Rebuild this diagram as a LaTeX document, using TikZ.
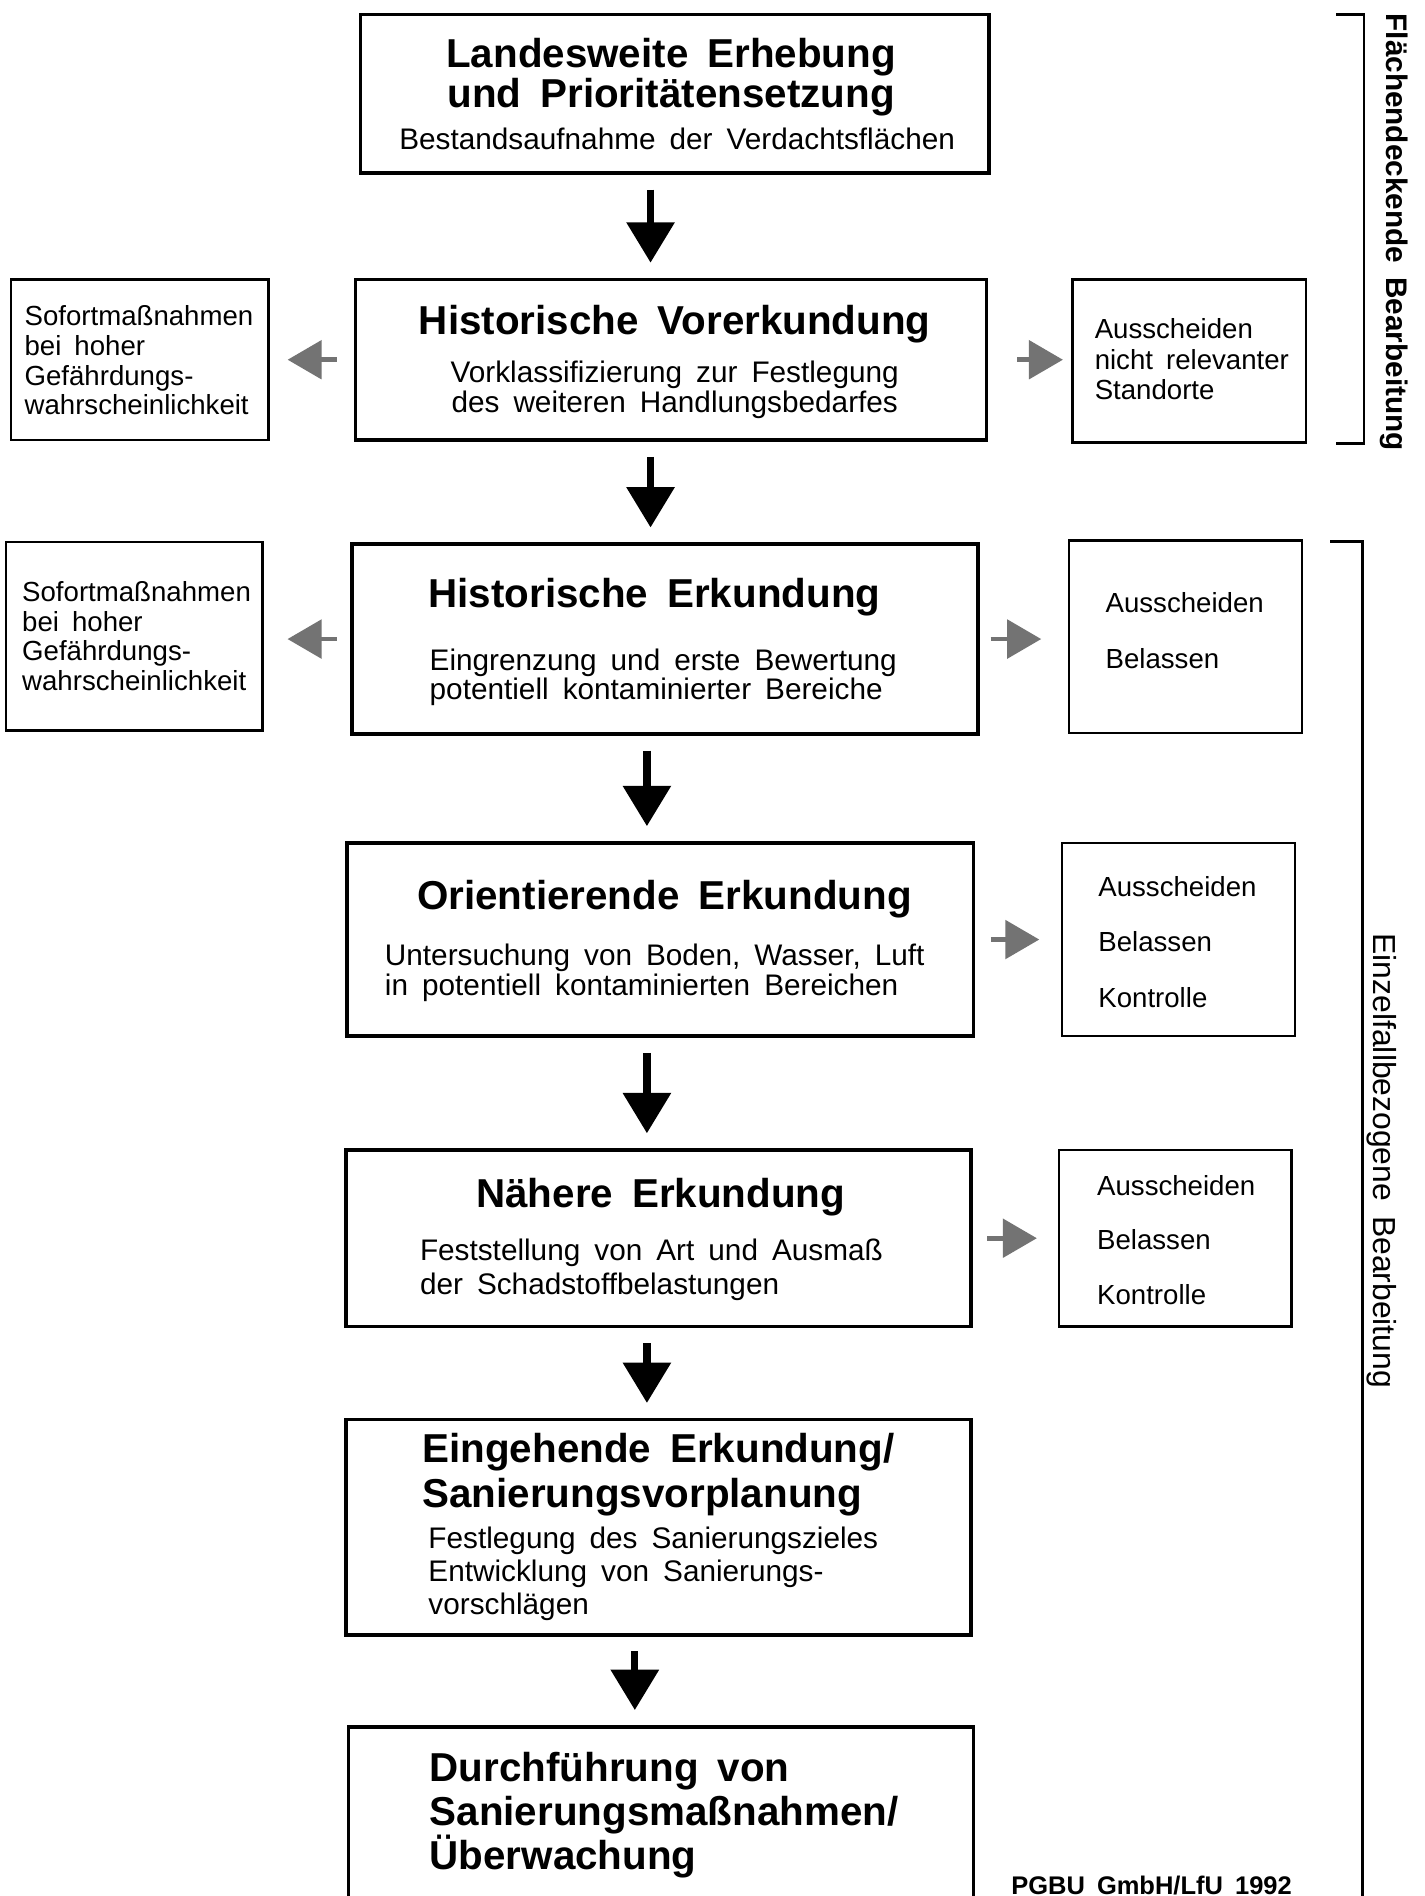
\documentclass[tikz,border=0pt]{standalone}
\usepackage{fontspec}
\setmainfont{Liberation Sans}[WordSpace=1.7]
\usetikzlibrary{arrows.meta}
\tikzset{
  mainbox/.style={draw,line width=1.7pt,inner sep=0pt},
  sidebox/.style={draw,line width=1.1pt,inner sep=0pt},
  headline/.style={inner sep=0pt,font=\fontsize{19}{21}\selectfont\bfseries},
  bodytext/.style={inner sep=0pt,font=\fontsize{14}{14.2}\selectfont},
  sidetext/.style={inner sep=0pt,align=left,font=\fontsize{13}{14}\selectfont},
  downarrow/.style={line width=3.4pt,-{Triangle[width=22pt,length=19pt]},shorten <=7pt,shorten >=7pt},
  grayarrow/.style={draw=black!55,line width=2.2pt,-{Triangle[width=18pt,length=16pt,fill=black!55]}},
  bracket/.style={line width=1.2pt}
}
\begin{document}
\begin{tikzpicture}[x=0.02cm,y=-0.02cm]
\useasboundingbox (0,0) rectangle (1178,1568);
\fill[white] (0,0) rectangle (1178,1568);
\clip (0,0) rectangle (1178,1568);

\node[mainbox,minimum width=10.4cm,minimum height=2.62cm] (erhebung) at (558,77.5) {};
\node[headline,align=center,font=\fontsize{19}{17.6}\selectfont\bfseries] (erhebungT) at (555,63.5) {Landesweite Erhebung\\und Prioritätensetzung};
\node[bodytext] (erhebungB) at (560,115) {Bestandsaufnahme der Verdachtsflächen};

\node[mainbox,minimum width=10.44cm,minimum height=2.66cm] (vorerkundung) at (555,297.5) {};
\node[headline] (vorerkundungT) at (558,268) {Historische Vorerkundung};
\node[bodytext,align=center] (vorerkundungB) at (558,322.5) {Vorklassifizierung zur Festlegung\\des weiteren Handlungsbedarfes};

\node[sidebox,minimum width=4.26cm,minimum height=2.66cm] (sofort1) at (115.5,297.5) {};
\node[sidetext,anchor=west] (sofort1T) at (20,298) {Sofortmaßnahmen\\bei hoher\\Gefährdungs-\\wahrscheinlichkeit};

\node[sidebox,minimum width=3.86cm,minimum height=2.7cm] (aus1) at (983.5,298.5) {};
\node[sidetext,anchor=west,font=\fontsize{13}{14.2}\selectfont] (aus1T) at (905,297) {Ausscheiden\\nicht relevanter\\Standorte};

\node[mainbox,minimum width=10.36cm,minimum height=3.14cm] (erkundung) at (550,528.5) {};
\node[headline,anchor=west] (erkundungT) at (354,494) {Historische Erkundung};
\node[bodytext,align=left,anchor=west,font=\fontsize{14}{13.6}\selectfont] (erkundungB) at (355,560) {Eingrenzung und erste Bewertung\\potentiell kontaminierter Bereiche};

\node[sidebox,minimum width=4.24cm,minimum height=3.12cm] (sofort2) at (111,526) {};
\node[sidetext,anchor=west] (sofort2T) at (18,526) {Sofortmaßnahmen\\bei hoher\\Gefährdungs-\\wahrscheinlichkeit};

\node[sidebox,minimum width=3.86cm,minimum height=3.18cm] (aus2) at (980.5,526.5) {};
\node[sidetext,anchor=west,font=\fontsize{13}{26.6}\selectfont] (aus2T) at (914,521.5) {Ausscheiden\\Belassen};

\node[mainbox,minimum width=10.36cm,minimum height=3.2cm] (orientierend) at (546,777) {};
\node[headline] (orientierendT) at (549.5,744) {Orientierende Erkundung};
\node[bodytext,align=left,anchor=west] (orientierendB) at (318,804.5) {Untersuchung von Boden, Wasser, Luft\\in potentiell kontaminierten Bereichen};

\node[sidebox,minimum width=3.86cm,minimum height=3.2cm] (aus3) at (974.5,777) {};
\node[sidetext,anchor=west,font=\fontsize{13}{26}\selectfont] (aus3T) at (908,779) {Ausscheiden\\Belassen\\Kontrolle};

\node[mainbox,minimum width=10.34cm,minimum height=2.92cm] (naehere) at (544.5,1024) {};
\node[headline] (naehereT) at (546.5,990) {Nähere Erkundung};
\node[bodytext,align=left,anchor=west,font=\fontsize{14}{15.9}\selectfont] (naehereB) at (347,1050) {Feststellung von Art und Ausmaß\\der Schadstoffbelastungen};

\node[sidebox,minimum width=3.84cm,minimum height=2.92cm] (aus4) at (972,1024) {};
\node[sidetext,anchor=west,font=\fontsize{13}{25.8}\selectfont] (aus4T) at (907,1025.5) {Ausscheiden\\Belassen\\Kontrolle};

\node[mainbox,minimum width=10.34cm,minimum height=3.56cm] (eingehend) at (544.5,1263) {};
\node[headline,align=left,anchor=west] (eingehendT) at (349,1219.5) {Eingehende Erkundung/\\Sanierungsvorplanung};
\node[bodytext,align=left,anchor=west,font=\fontsize{14}{15.6}\selectfont] (eingehendB) at (354,1301.5) {Festlegung des Sanierungszieles\\Entwicklung von Sanierungs-\\vorschlägen};

\node[mainbox,minimum width=10.34cm,minimum height=4.24cm] (durchfuehrung) at (546.5,1534) {};
\node[headline,align=left,anchor=west,font=\fontsize{19}{20.7}\selectfont\bfseries] (durchfuehrungT) at (355,1501.5) {Durchführung von\\Sanierungsmaßnahmen/\\Überwachung};

\node[inner sep=0pt,anchor=west,font=\fontsize{12}{14}\selectfont\bfseries] (quelle) at (836,1559) {PGBU GmbH/LfU 1992};

\draw[downarrow] (erhebung.south -| 538,0) -- (vorerkundung.north -| 538,0);
\draw[downarrow] (vorerkundung.south -| 538,0) -- (erkundung.north -| 538,0);
\draw[downarrow] (erkundung.south -| 535,0) -- (orientierend.north -| 535,0);
\draw[downarrow] (orientierend.south -| 535,0) -- (naehere.north -| 535,0);
\draw[downarrow] (naehere.south -| 535,0) -- (eingehend.north -| 535,0);
\draw[downarrow] (eingehend.south -| 525,0) -- (durchfuehrung.north -| 525,0);

\draw[grayarrow,shorten <=8pt,shorten >=8.5pt] (vorerkundung.west) -- (sofort1.east |- vorerkundung.west);
\draw[grayarrow,shorten <=13.6pt,shorten >=4pt] (vorerkundung.east) -- (aus1.west |- vorerkundung.east);
\draw[grayarrow,shorten <=6.2pt,shorten >=11.3pt] (erkundung.west) -- (sofort2.east |- erkundung.west);
\draw[grayarrow,shorten <=5pt,shorten >=12.5pt] (erkundung.east) -- (aus2.west |- erkundung.east);
\draw[grayarrow,shorten <=7.4pt,shorten >=10pt] (orientierend.east) -- (aus3.west |- orientierend.east);
\draw[grayarrow,shorten <=6.8pt,shorten >=10pt] (naehere.east) -- (aus4.west |- naehere.east);

\draw[bracket] (1105,12) -- (1128,12) -- (1128,367) -- (1105,367);
\node[rotate=-90,inner sep=0pt,font=\fontsize{14}{16}\selectfont\bfseries] (flaeche) at (1153,192) {Flächendeckende Bearbeitung};
\draw[bracket] (1100,448) -- (1127,448) -- (1127,1600);
\node[rotate=-90,inner sep=0pt,font=\fontsize{15}{17}\selectfont] (einzelfall) at (1143,960) {Einzelfallbezogene Bearbeitung};
\end{tikzpicture}
\end{document}
